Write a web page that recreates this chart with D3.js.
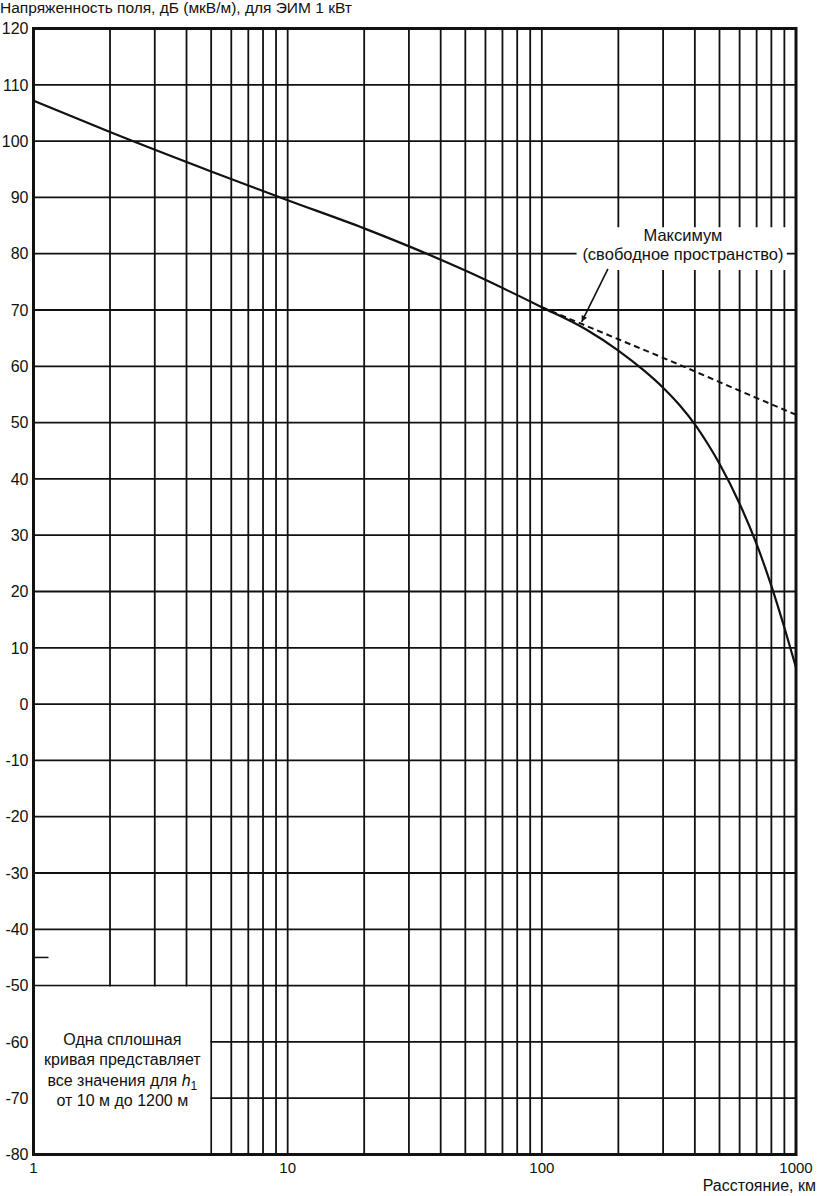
<!DOCTYPE html>
<html>
<head>
<meta charset="utf-8">
<script src="https://cdn.jsdelivr.net/npm/d3@7"></script>
<style>
    body { margin: 0; background: #fff; }
    text { font-family: "Liberation Sans", Arial, sans-serif; fill: #111; }
</style>
</head>
<body>
<div id="chart"></div>
<script>
// values
const distances = [1, 2, 5, 10, 20, 50, 100, 150, 200, 250, 300, 350, 400, 450, 500, 600, 700, 800, 900, 1000];
const fieldAll = [107.2, 101.6, 94.6, 89.5, 84.5, 77.0, 70.5, 66.5, 62.8, 59.4, 56.2, 53.0, 49.7, 46.2, 42.7, 35.6, 28.4, 21.0, 13.6, 6.5];
const freeDist = [100, 200, 300, 400, 500, 1000];
const freeField = [70.5, 64.8, 61.5, 59.1, 57.2, 51.4];
const yTicks = d3.range(-80, 121, 10);
const xTicks = [1, 10, 100, 1000];
const markerTick = -45;

const yTitle = "Напряженность поля, дБ (мкВ/м), для ЭИМ 1 кВт";
const xTitle = "Расстояние, км";
const maxLabel = ["Максимум", "(свободное пространство)"];
const noteLines = ["Одна сплошная", "кривая представляет", "все значения для", "от 10 м до 1200 м"];

const W = 819, H = 1196;
const margin = { top: 28.5, right: 23, bottom: 41.5, left: 33.5 };
const width = W - margin.left - margin.right;
const height = H - margin.top - margin.bottom;

const svg = d3.select("#chart")
    .append("svg")
    .attr("width", W)
    .attr("height", H);

const g = svg.append("g")
    .attr("transform", `translate(${margin.left},${margin.top})`);

const x = d3.scaleLog().domain([1, 1000]).range([0, width]);
const y = d3.scaleLinear().domain([-80, 120]).range([height, 0]);

// grid: 1..9 in every decade
const xGrid = [];
[1, 10, 100].forEach(dec => d3.range(1, 10).forEach(k => xGrid.push(k * dec)));

g.append("g").selectAll("line")
    .data(xGrid.slice(1))
    .join("line")
    .attr("x1", d => x(d)).attr("x2", d => x(d))
    .attr("y1", 0).attr("y2", height)
    .attr("stroke", "#111")
    .attr("stroke-width", 1.8);

g.append("g").selectAll("line")
    .data(yTicks)
    .join("line")
    .attr("x1", 0).attr("x2", width)
    .attr("y1", d => y(d)).attr("y2", d => y(d))
    .attr("stroke", "#111")
    .attr("stroke-width", 1.8);

// note box bottom-left (covers grid from 1 to 5 km, -50 to -80)
g.append("rect")
    .attr("x", x(1))
    .attr("y", y(-50) + 1)
    .attr("width", x(5) - x(1) - 1)
    .attr("height", y(-80) - y(-50) - 1)
    .attr("fill", "#fff");

// white box behind the "Максимум" label
g.append("rect")
    .attr("x", x(137))
    .attr("y", y(84.7))
    .attr("width", x(920) - x(137))
    .attr("height", y(77.1) - y(84.7))
    .attr("fill", "#fff");

// small stray tick on the left axis
g.append("line")
    .attr("x1", 0).attr("x2", 15)
    .attr("y1", y(markerTick)).attr("y2", y(markerTick))
    .attr("stroke", "#111")
    .attr("stroke-width", 1.5);

// frame
g.append("rect")
    .attr("x", 0).attr("y", 0)
    .attr("width", width).attr("height", height)
    .attr("fill", "none")
    .attr("stroke", "#111")
    .attr("stroke-width", 3);

// curves
const line = d3.line()
    .x(d => x(d[0]))
    .y(d => y(d[1]))
    .curve(d3.curveMonotoneX);

g.append("path")
    .datum(freeDist.map((d, i) => [d, freeField[i]]))
    .attr("d", line)
    .attr("fill", "none")
    .attr("stroke", "#111")
    .attr("stroke-width", 2)
    .attr("stroke-dasharray", "6,4");

g.append("path")
    .datum(distances.map((d, i) => [d, fieldAll[i]]))
    .attr("d", line)
    .attr("fill", "none")
    .attr("stroke", "#111")
    .attr("stroke-width", 2.2);

// y tick labels
g.append("g").selectAll("text")
    .data(yTicks)
    .join("text")
    .attr("x", -5)
    .attr("y", d => y(d))
    .attr("dy", "0.36em")
    .attr("text-anchor", "end")
    .style("font-size", "16px")
    .text(d => d);

// x tick labels
g.append("g").selectAll("text")
    .data(xTicks)
    .join("text")
    .attr("x", d => x(d))
    .attr("y", height + 18)
    .attr("text-anchor", "middle")
    .style("font-size", "15px")
    .text(d => d);

svg.append("text")
    .attr("x", 0)
    .attr("y", 13)
    .style("font-size", "15.5px")
    .text(yTitle);

svg.append("text")
    .attr("x", W - 3)
    .attr("y", H - 5)
    .attr("text-anchor", "end")
    .style("font-size", "16px")
    .text(xTitle);

// "Максимум" label and arrow
g.append("g").selectAll("text")
    .data(maxLabel)
    .join("text")
    .attr("x", x(359))
    .attr("y", (d, i) => y(84.7) + 14 + i * 18.5)
    .attr("text-anchor", "middle")
    .style("font-size", "16.5px")
    .text(d => d);

svg.append("defs").append("marker")
    .attr("id", "arrow")
    .attr("viewBox", "0 0 10 10")
    .attr("refX", 10).attr("refY", 5)
    .attr("markerWidth", 11).attr("markerHeight", 6)
    .attr("markerUnits", "userSpaceOnUse")
    .attr("orient", "auto")
    .append("path")
    .attr("d", "M0,0L10,5L0,10Z")
    .attr("fill", "#111");

g.append("line")
    .attr("x1", x(182)).attr("y1", y(77.3))
    .attr("x2", x(143.5)).attr("y2", y(67.9))
    .attr("stroke", "#111")
    .attr("stroke-width", 1.6)
    .attr("marker-end", "url(#arrow)");

// note text
const note = g.append("g").attr("transform", `translate(${(x(1) + x(5)) / 2},0)`);
noteLines.forEach((t, i) => {
    const txt = note.append("text")
        .attr("x", 0)
        .attr("y", y(-60) + 3 + i * 20.5)
        .attr("text-anchor", "middle")
        .style("font-size", "16px");
    txt.append("tspan").text(t);
    if (i === 2) {
        txt.append("tspan").text(" h").style("font-style", "italic");
        txt.append("tspan").text("1").attr("dy", 4).style("font-size", "12px");
    }
});
</script>
</body>
</html>
